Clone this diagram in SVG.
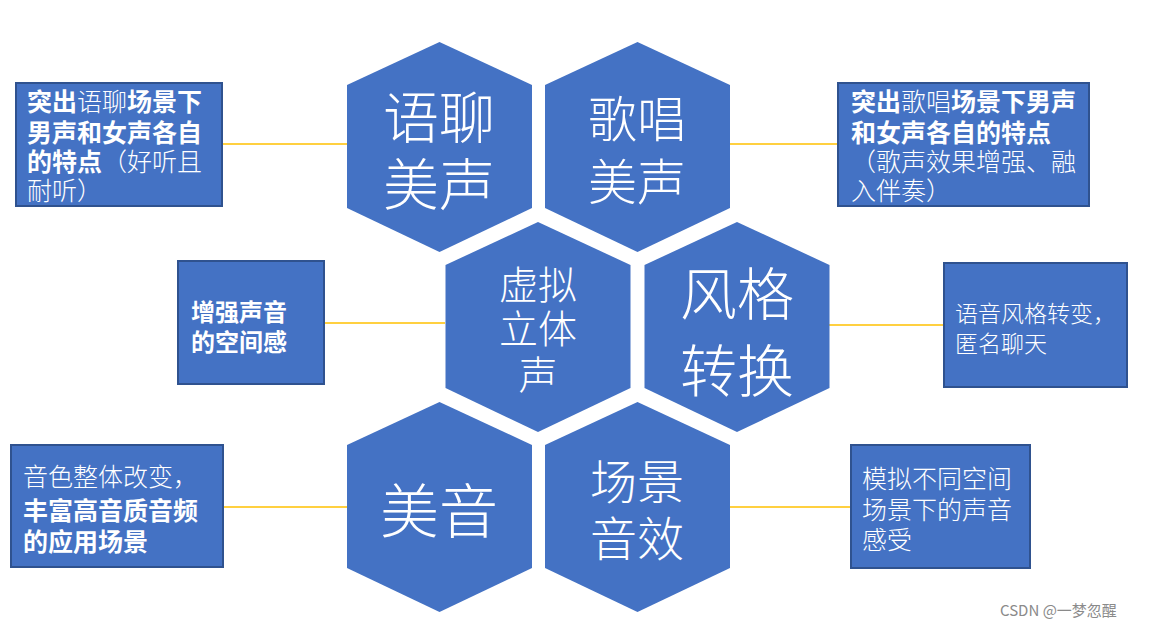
<svg xmlns="http://www.w3.org/2000/svg" width="1149" height="629" viewBox="0 0 1149 629">
<style>
.hex{fill:#4472C4;}
.box{fill:#4472C4;stroke:#2F528F;stroke-width:2;}
.conn{stroke:#FFC000;stroke-width:1.5;fill:none;}
.ht{fill:#fff;font-family:"Noto Sans CJK SC",sans-serif;font-weight:300;text-anchor:middle;dominant-baseline:central;}
.bt{fill:#fff;font-family:"Noto Sans CJK SC",sans-serif;dominant-baseline:central;}
.b{font-weight:bold;}
.l{font-weight:300;}
.wm{fill:#8a8a8a;font-family:"Noto Sans CJK SC",sans-serif;font-size:15px;}
</style>
<defs>
<polygon id="hx" points="0,-105 92.5,-62 92.5,61 0,105 -92.5,61 -92.5,-62"/>
</defs>
<rect width="1149" height="629" fill="#fff"/>
<g id="connectors">
<line class="conn" x1="222" y1="144" x2="347" y2="144"/>
<line class="conn" x1="729" y1="144" x2="838" y2="144"/>
<line class="conn" x1="324" y1="323" x2="445" y2="323"/>
<line class="conn" x1="823" y1="325" x2="944" y2="325"/>
<line class="conn" x1="223" y1="507" x2="347" y2="507"/>
<line class="conn" x1="729" y1="507" x2="851" y2="507"/>
</g>
<g id="hex1"><use href="#hx" class="hex" x="439.5" y="147"/>
<text class="ht" font-size="56"><tspan x="439" y="113">语聊</tspan><tspan x="439" y="180">美声</tspan></text></g>
<g id="hex2"><use href="#hx" class="hex" x="637.5" y="147"/>
<text class="ht" font-size="49"><tspan x="637" y="115">歌唱</tspan><tspan x="637" y="178">美声</tspan></text></g>
<g id="hex3"><use href="#hx" class="hex" x="538" y="327"/>
<text class="ht" font-size="39"><tspan x="538" y="282">虚拟</tspan><tspan x="538" y="326">立体</tspan><tspan x="538" y="372">声</tspan></text></g>
<g id="hex4"><use href="#hx" class="hex" x="737" y="327"/>
<text class="ht" font-size="57"><tspan x="737" y="290">风格</tspan><tspan x="737" y="367">转换</tspan></text></g>
<g id="hex5"><use href="#hx" class="hex" x="439.5" y="507"/>
<text class="ht" font-size="59" x="439" y="507">美音</text></g>
<g id="hex6"><use href="#hx" class="hex" x="637.5" y="507"/>
<text class="ht" font-size="47"><tspan x="637" y="478">场景</tspan><tspan x="637" y="535">音效</tspan></text></g>
<g id="box1"><rect class="box" x="16" y="83" width="206" height="123"/>
<text class="bt" font-size="25"><tspan x="27" y="100"><tspan class="b">突出</tspan><tspan class="l">语聊</tspan><tspan class="b">场景下</tspan></tspan><tspan x="27" y="131" class="b">男声和女声各自</tspan><tspan x="27" y="160"><tspan class="b">的特点</tspan><tspan class="l">（好听且</tspan></tspan><tspan x="27" y="189" class="l">耐听）</tspan></text></g>
<g id="box2"><rect class="box" x="838" y="83" width="251" height="123"/>
<text class="bt" font-size="25"><tspan x="851" y="100"><tspan class="b">突出</tspan><tspan class="l">歌唱</tspan><tspan class="b">场景下男声</tspan></tspan><tspan x="851" y="131" class="b">和女声各自的特点</tspan><tspan x="851" y="160" class="l">（歌声效果增强、融</tspan><tspan x="851" y="189" class="l">入伴奏）</tspan></text></g>
<g id="box3"><rect class="box" x="178" y="261" width="146" height="123"/>
<text class="bt b" font-size="24"><tspan x="191" y="310">增强声音</tspan><tspan x="191" y="340">的空间感</tspan></text></g>
<g id="box4"><rect class="box" x="944" y="263" width="183" height="124"/>
<text class="bt l" font-size="23"><tspan x="955" y="312">语音风格转变，</tspan><tspan x="955" y="342">匿名聊天</tspan></text></g>
<g id="box5"><rect class="box" x="11" y="445" width="212" height="122"/>
<text class="bt" font-size="25"><tspan x="23" y="475" class="l">音色整体改变，</tspan><tspan x="23" y="509" class="b">丰富高音质音频</tspan><tspan x="23" y="540" class="b">的应用场景</tspan></text></g>
<g id="box6"><rect class="box" x="851" y="445" width="179" height="123"/>
<text class="bt l" font-size="25"><tspan x="862" y="477">模拟不同空间</tspan><tspan x="862" y="508">场景下的声音</tspan><tspan x="862" y="538">感受</tspan></text></g>
<text class="wm" x="1000" y="616">CSDN @一梦忽醒</text>
</svg>
